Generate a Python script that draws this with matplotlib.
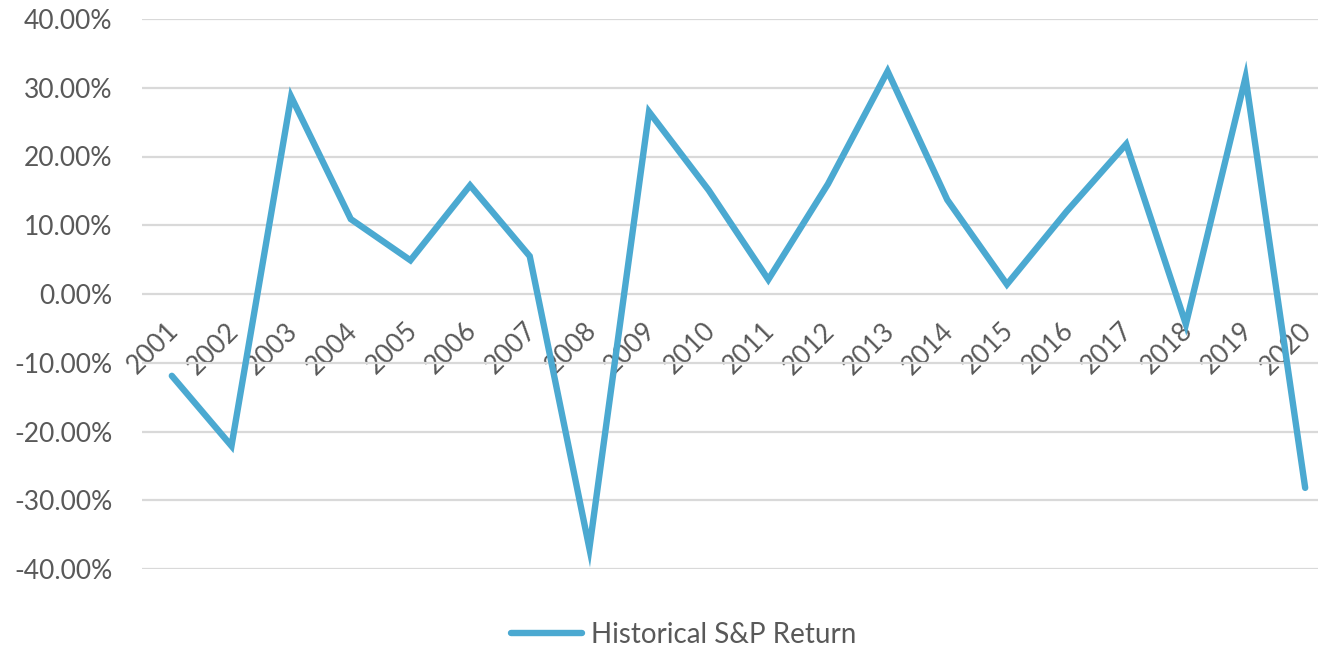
import matplotlib.pyplot as plt
import matplotlib.transforms as mtransforms
from matplotlib.ticker import FuncFormatter

# data
years = ["2001", "2002", "2003", "2004", "2005", "2006", "2007", "2008", "2009", "2010",
         "2011", "2012", "2013", "2014", "2015", "2016", "2017", "2018", "2019", "2020"]
returns = [-0.119, -0.221, 0.287, 0.109, 0.049, 0.158, 0.055, -0.370, 0.265, 0.151,
           0.021, 0.160, 0.324, 0.137, 0.014, 0.120, 0.218, -0.044, 0.315, -0.282]
y_ticks = [-0.4, -0.3, -0.2, -0.1, 0.0, 0.1, 0.2, 0.3, 0.4]
series_name = "Historical S&P Return"

LINE = "#4BA9D1"
TEXT = "#595959"
GRID = "#D9D9D9"

plt.rcParams['font.family'] = ['Lato', 'DejaVu Sans']

W, H = 1318, 647
fig = plt.figure(figsize=(W / 100, H / 100), dpi=100)
# plot area runs a little past the right edge, as in the reference
left, right, top, bottom = 142, 1335, 19, 569
ax = fig.add_axes([left / W, 1 - bottom / H, (right - left) / W, (bottom - top) / H])

x = list(range(len(years)))
ax.plot(x, returns, color=LINE, linewidth=4.6, solid_joinstyle='miter',
        solid_capstyle='round', label=series_name, zorder=3)

ax.set_xlim(-0.5, len(years) - 0.5)
ax.set_ylim(-0.4, 0.4)
ax.set_yticks(y_ticks)
ax.yaxis.set_major_formatter(FuncFormatter(lambda v, _: f"{v * 100:.2f}%"))
ax.grid(axis='y', color=GRID, linewidth=1.6)
ax.set_axisbelow(True)

# category labels sit along the zero line
ax.spines['bottom'].set_position(('data', 0))
for s in ax.spines.values():
    s.set_visible(False)
ax.set_xticks(x)
ax.set_xticklabels(years)
ax.tick_params(axis='x', length=0, pad=8, labelsize=19, labelcolor=TEXT)
ax.tick_params(axis='y', length=0, pad=21.5, labelsize=19, labelcolor=TEXT)
shift = mtransforms.ScaledTranslation(-6 / 100, -13 / 100, fig.dpi_scale_trans)
for lbl in ax.get_xticklabels():
    lbl.set_rotation(45)
    lbl.set_rotation_mode('anchor')
    lbl.set_ha('right')
    lbl.set_va('top')
    lbl.set_transform(lbl.get_transform() + shift)

fig.legend(loc='center', bbox_to_anchor=(684 / W, 1 - 635 / H), frameon=False,
           fontsize=20, labelcolor=TEXT, handlelength=2.55, handletextpad=0.32)

fig.savefig("out.png", dpi=100)
